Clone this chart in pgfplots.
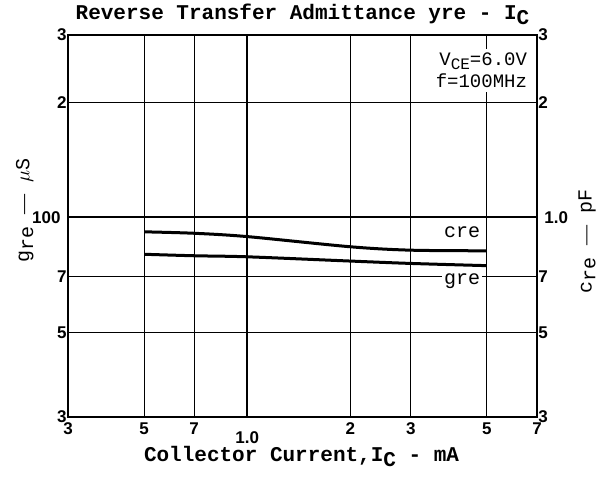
\documentclass[border=0pt]{standalone}
\usepackage{fontspec}
\setmainfont{Liberation Serif}
\setsansfont{Liberation Sans}
\setmonofont{Liberation Mono}
\usepackage{pgfplots}
\pgfplotsset{compat=1.18}
\begin{document}
\begin{tikzpicture}
\path[use as bounding box] (-34pt,-29.5pt) rectangle (268pt,208.5pt);
\begin{axis}[
  scale only axis, width=234.5pt, height=191pt,
  xmode=log, ymode=log, xmin=0.3, xmax=7, ymin=30, ymax=300,
  xtick={0.3,0.5,0.7,2,3,5,7}, xticklabels={3,5,7,2,3,5,7},
  extra x ticks={1}, extra x tick labels={1.0},
  extra x tick style={grid style={line width=0.9pt}, xticklabel style={yshift=-4.5pt}},
  ytick={30,50,70,200,300}, yticklabels={3,5,7,2,3},
  extra y ticks={100}, extra y tick labels={100\kern3pt},
  extra y tick style={grid style={line width=0.9pt}},
  grid=major, grid style={black, line width=0.45pt},
  major tick length=0pt, minor tick length=0pt,
  axis line style={line width=1.1pt},
  ticklabel style={font=\sffamily\bfseries\fontsize{8.5}{8.5}\selectfont},
  xticklabel style={inner sep=0pt, yshift=-2.5pt},
  yticklabel style={inner sep=0pt, xshift=-0.5pt},
  title={Reverse Transfer Admittance yre - I\raisebox{-0.45ex}{C}},
  title style={font=\ttfamily\bfseries\fontsize{10.5}{12}\selectfont, at={(axis description cs:0.5,1)}, anchor=base, yshift=1.5pt},
  xlabel={Collector Current,I\raisebox{-0.45ex}{C} - mA},
  xlabel style={font=\ttfamily\bfseries\fontsize{10.5}{12}\selectfont, at={(axis description cs:0.498,0)}, anchor=base, yshift=-22.5pt},
  ylabel={g\raisebox{-0.35ex}{re} {\rmfamily\textemdash} $\mu$S},
  ylabel style={font=\ttfamily\fontsize{10}{12}\selectfont, at={(axis description cs:-0.092,0.54)}, anchor=center},
]
\addplot[black, line width=1.5pt, smooth] coordinates {
  (0.5,80.0) (0.7,79.3) (1.0,78.8) (2,76.8) (3,75.7) (5,74.7)
};
\node[font=\ttfamily\fontsize{10}{12}\selectfont, anchor=base west, fill=white, inner sep=1pt] at (axis description cs:0.797,0.469) {cre};
\node[font=\ttfamily\fontsize{10}{12}\selectfont, anchor=base west, fill=white, inner sep=1pt] at (axis description cs:0.797,0.348) {gre};
\node[font=\ttfamily\fontsize{9.5}{11}\selectfont, anchor=north east, fill=white, align=right, inner sep=2pt] at (axis description cs:0.988,0.965) {V\raisebox{-0.4ex}{\fontsize{8}{8}\selectfont CE}=6.0V\\f=100MHz};
\end{axis}
\begin{axis}[
  scale only axis, width=234.5pt, height=191pt,
  xmode=log, ymode=log, xmin=0.3, xmax=7, ymin=0.3, ymax=3,
  axis x line=none, axis y line*=right,
  ytick={0.3,0.5,0.7,1,2,3}, yticklabels={3,5,7,\kern3pt1.0,2,3},
  major tick length=0pt, minor tick length=0pt,
  axis line style={line width=1.1pt},
  ticklabel style={font=\sffamily\bfseries\fontsize{8.5}{8.5}\selectfont},
  yticklabel style={inner sep=0pt, xshift=0.5pt},
  ylabel={c\raisebox{-0.35ex}{re} {\rmfamily\textemdash} pF},
  ylabel style={font=\ttfamily\fontsize{10}{12}\selectfont, at={(axis description cs:1.107,0.46)}, anchor=center, rotate=0},
]
\addplot[black, line width=1.5pt, smooth] coordinates {
  (0.5,0.916) (0.7,0.908) (1.0,0.890) (2,0.837) (3,0.820) (5,0.817)
};
\end{axis}
\end{tikzpicture}
\end{document}
